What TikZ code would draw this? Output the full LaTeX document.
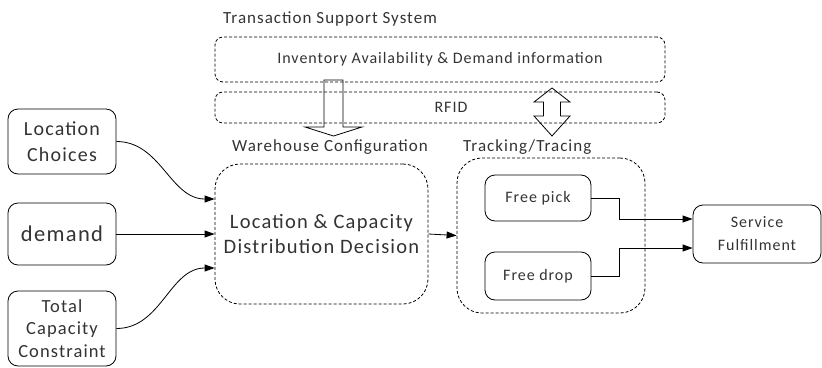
\documentclass[tikz,border=0pt]{standalone}
\usepackage{fontspec}
\setmainfont{Carlito}[LetterSpace=6]
\usetikzlibrary{arrows.meta}
\tikzset{
  InputBox/.style={draw,rounded corners=10pt,inner sep=0pt,align=center,line width=0.8pt},
  GroupBox/.style={draw,dash pattern=on 3pt off 2pt,rounded corners=25pt,inner sep=0pt,align=center,line width=0.8pt},
  LayerBox/.style={draw,dash pattern=on 3pt off 2pt,rounded corners=8pt,inner sep=0pt,minimum width=450pt,line width=0.8pt,font=\fontsize{16}{18}\selectfont},
  GroupLabel/.style={anchor=west,inner sep=0pt,font=\fontsize{17}{19}\selectfont},
  HollowArrow/.style={draw,line width=0.8pt,line join=miter},
  Flow/.style={-{Triangle[length=10pt,width=7pt]},line width=0.8pt}
}

\begin{document}
\begin{tikzpicture}[x=1pt,y=-1pt,every node/.append style={text=black!80}]
\useasboundingbox (0,0) rectangle (822,367);
\node[GroupLabel] (TransactionLabel1) at (223,19) {Transaction Support System};
\node[LayerBox,minimum height=45pt] (InventoryLayer1) at (440,59.5) {Inventory Availability \& Demand information};
\node[LayerBox,minimum height=31pt] (RfidLayer1) at (440,107.5) {\hspace*{22pt}RFID};
\node[InputBox,minimum width=108pt,minimum height=65pt,font=\fontsize{20}{26}\selectfont] (LocationChoices1) at (62,141.5) {Location\\Choices};
\node[InputBox,minimum width=108pt,minimum height=62pt,font=\fontsize{22.5}{26}\selectfont] (Demand1) at (62,234) {demand};
\node[InputBox,minimum width=108pt,minimum height=75pt,font=\fontsize{18.5}{22.5}\selectfont] (CapacityConstraint1) at (62,328.5) {Total\\Capacity\\Constraint};
\node[GroupLabel] (WarehouseLabel1) at (232,147) {Warehouse Configuration};
\node[GroupBox,minimum width=213pt,minimum height=140pt,font=\fontsize{20.5}{25}\selectfont] (WarehouseConfig1) at (321.5,234) {Location \& Capacity\\Distribution Decision};
\node[GroupLabel] (TrackingLabel1) at (463,147) {Tracking/Tracing};
\node[GroupBox,minimum width=188pt,minimum height=155pt] (TrackingTracing1) at (551,235.5) {};
\node[InputBox,minimum width=106pt,minimum height=46pt,font=\fontsize{16}{18}\selectfont] (FreePick1) at (538,198) {Free pick};
\node[InputBox,minimum width=106pt,minimum height=48pt,font=\fontsize{16}{18}\selectfont] (FreeDrop1) at (538,276) {Free drop};
\node[InputBox,minimum width=128pt,minimum height=58pt,font=\fontsize{16}{23}\selectfont] (ServiceFulfillment1) at (757,234) {Service\\Fulfillment};
\draw[HollowArrow] (324,80) -- (343,80) -- (343,127) -- (362,127) -- (333.5,136) -- (305,127) -- (324,127) -- cycle;
\draw[HollowArrow] (552,88) -- (570,102) -- (560.5,102) -- (560.5,116) -- (570,116) -- (552,136) -- (534,116) -- (543.5,116) -- (543.5,102) -- (534,102) -- cycle;
\draw[Flow] (LocationChoices1.east) to[out=0,in=180] ([yshift=35pt]WarehouseConfig1.west);
\draw[Flow] (Demand1.east) -- (WarehouseConfig1.west);
\draw[Flow] (CapacityConstraint1.east) to[out=0,in=180] ([yshift=-34pt]WarehouseConfig1.west);
\draw[Flow] (WarehouseConfig1.east) -- (TrackingTracing1.west);
\draw[Flow] (FreePick1.east) -- ++(28,0) |- ([yshift=15pt]ServiceFulfillment1.west);
\draw[Flow] (FreeDrop1.east) -- ++(28,0) |- ([yshift=-14pt]ServiceFulfillment1.west);
\end{tikzpicture}
\end{document}
